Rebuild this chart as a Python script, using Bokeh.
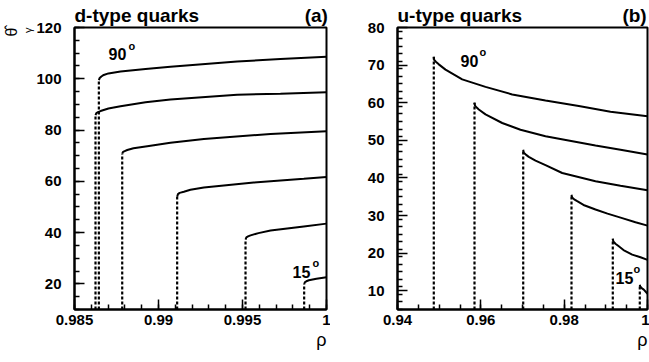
import numpy as np
from bokeh.plotting import figure
from bokeh.layouts import row
from bokeh.models import FixedTicker, PrintfTickFormatter, Label, Range1d, Title
from bokeh.embed import file_html
from bokeh.resources import INLINE

# ---- d-type quarks (panel a): curves for 90,75,60,45,30,15 degrees ----
d_x_90 = [0.98645, 0.98650, 0.98660, 0.98674, 0.98702, 0.98774, 0.98923, 0.99071, 0.99468, 0.99726, 1.0]
d_y_90 = [99.5, 100.3, 100.9, 101.5, 102.1, 102.8, 103.8, 104.7, 106.7, 107.7, 108.6]
d_x_75 = [0.98625, 0.98630, 0.98640, 0.98655, 0.98702, 0.98774, 0.98923, 0.99071, 0.99468, 0.99726, 1.0]
d_y_75 = [85.8, 86.6, 87.0, 87.4, 88.4, 89.3, 90.8, 91.9, 93.8, 94.2, 94.7]
d_x_60 = [0.98784, 0.98789, 0.98799, 0.98814, 0.98851, 0.98933, 0.99071, 0.99270, 0.99667, 1.0]
d_y_60 = [70.8, 71.5, 71.8, 72.2, 72.9, 73.7, 75.0, 76.5, 78.5, 79.5]
d_x_45 = [0.99111, 0.99116, 0.99126, 0.99151, 0.99190, 0.99270, 0.99567, 0.99865, 1.0]
d_y_45 = [54.0, 55.0, 55.5, 55.9, 56.7, 57.6, 59.5, 61.0, 61.7]
d_x_30 = [0.99518, 0.99523, 0.99533, 0.99548, 0.99595, 0.99667, 0.99865, 1.0]
d_y_30 = [37.3, 38.1, 38.5, 38.9, 39.8, 40.8, 42.4, 43.5]
d_x_15 = [0.99867, 0.99872, 0.99880, 0.99895, 0.99940, 1.0]
d_y_15 = [20.0, 20.7, 21.0, 21.4, 22.0, 22.6]

# ---- u-type quarks (panel b) ----
u_x_90 = [0.94871, 0.94880, 0.94920, 0.94991, 0.95152, 0.95553, 0.96112, 0.96753, 0.97552, 0.98351, 0.99112, 1.0]
u_y_90 = [72.2, 71.4, 70.9, 70.2, 68.8, 66.2, 64.2, 62.2, 60.6, 59.1, 57.6, 56.4]
u_x_75 = [0.95848, 0.95860, 0.95900, 0.95951, 0.96112, 0.96513, 0.96952, 0.97552, 0.98752, 0.99352, 1.0]
u_y_75 = [60.0, 59.2, 58.7, 58.2, 56.9, 54.6, 52.8, 51.1, 48.6, 47.5, 46.2]
u_x_60 = [0.97017, 0.97030, 0.97080, 0.97151, 0.97312, 0.97552, 0.97953, 0.98752, 0.99352, 1.0]
u_y_60 = [47.5, 46.7, 46.2, 45.6, 44.6, 43.4, 41.3, 39.1, 37.9, 36.7]
u_x_45 = [0.98176, 0.98190, 0.98240, 0.98313, 0.98464, 0.98752, 0.99040, 0.99393, 0.99712, 1.0]
u_y_45 = [35.5, 34.8, 34.3, 33.8, 32.8, 31.6, 30.5, 29.3, 28.2, 27.3]
u_x_30 = [0.99167, 0.99180, 0.99230, 0.99311, 0.99424, 0.99633, 0.99832, 1.0]
u_y_30 = [23.8, 23.1, 22.5, 21.8, 20.8, 19.6, 18.9, 18.2]
u_x_15 = [0.99815, 0.99825, 0.99860, 0.99911, 1.0]
u_y_15 = [11.6, 11.1, 10.7, 10.3, 9.2]

d_curves = [(d_x_90, d_y_90), (d_x_75, d_y_75), (d_x_60, d_y_60),
            (d_x_45, d_y_45), (d_x_30, d_y_30), (d_x_15, d_y_15)]
u_curves = [(u_x_90, u_y_90), (u_x_75, u_y_75), (u_x_60, u_y_60),
            (u_x_45, u_y_45), (u_x_30, u_y_30), (u_x_15, u_y_15)]

d_xticks = [0.985, 0.99, 0.995, 1.0]
d_yticks = [20, 40, 60, 80, 100, 120]
u_xticks = [0.94, 0.96, 0.98, 1.0]
u_yticks = [10, 20, 30, 40, 50, 60, 70, 80]

FONT = "Liberation Sans"
FB = 309  # frame bottom in window pixels
NB = "\u00a0"


def make_panel(xr, yr, xmaj, xminstep, ymaj, yminstep, curves, width, bl, br):
    p = figure(width=width, height=362, x_range=Range1d(*xr), y_range=Range1d(*yr),
               output_backend="svg", toolbar_location=None, sizing_mode="fixed",
               min_border_left=bl, min_border_right=br, min_border_top=27,
               min_border_bottom=53)
    p.grid.visible = False
    p.outline_line_color = "black"
    p.outline_line_width = 2
    p.background_fill_color = "white"
    p.border_fill_color = "white"
    xmin = [round(v, 4) for v in np.arange(xr[0], xr[1] + 1e-9, xminstep)]
    ymin = [round(v, 4) for v in np.arange(yr[0], yr[1] + 1e-9, yminstep)]
    p.xaxis.ticker = FixedTicker(ticks=xmaj, minor_ticks=xmin)
    p.yaxis.ticker = FixedTicker(ticks=ymaj, minor_ticks=ymin)
    p.xaxis.formatter = PrintfTickFormatter(format="%g")
    p.yaxis.formatter = PrintfTickFormatter(format="%g")
    for ax in (p.xaxis[0], p.yaxis[0]):
        ax.major_tick_in = 10
        ax.major_tick_out = 0
        ax.minor_tick_in = 5
        ax.minor_tick_out = 0
        ax.major_tick_line_width = 1.5
        ax.minor_tick_line_width = 1.5
        ax.axis_line_width = 2
        ax.major_label_text_font = FONT
        ax.major_label_text_font_style = "bold"
        ax.major_label_text_font_size = "15px"
        ax.major_label_text_color = "black"
    p.xaxis.major_label_standoff = 5
    p.yaxis.major_label_standoff = 13
    for xs, ys in curves:
        p.segment(x0=[xs[0]], y0=[yr[0]], x1=[xs[0]], y1=[ys[0]],
                  line_color="black", line_width=2.2, line_dash="3 2")
        p.line(xs, ys, line_color="black", line_width=2)
    return p


def lab(p, fl, X, Y, text, size, bold=True, align="left", baseline="alphabetic"):
    # X, Y in window pixels; fl = frame left pixel (inside-frame labels only)
    p.add_layout(Label(x=X - fl, y=FB - Y, x_units="screen", y_units="screen",
                       text=text, text_font=FONT, text_font_size=f"{size}px",
                       text_font_style="bold" if bold else "normal",
                       text_align=align, text_baseline=baseline,
                       text_color="black"))


def title(p, text, where, align, size, bold=True, standoff=0, offset=0):
    p.add_layout(Title(text=text, align=align, text_font=FONT,
                       text_font_size=f"{size}px",
                       text_font_style="bold" if bold else "normal",
                       text_color="black", standoff=standoff, offset=offset), where)


p1 = make_panel((0.985, 1.0), (10, 120), d_xticks, 0.001, d_yticks, 5,
                d_curves, 330, 74, 4)
p2 = make_panel((0.94, 1.0), (5, 80), u_xticks, 0.005, u_yticks, 2,
                u_curves, 319, 67, 2)

# panel a
title(p1, "d-type quarks" + NB * 20 + "(a)", "above", "left", 19, standoff=4)
title(p1, "ρ", "below", "right", 18, bold=False)
title(p1, "γ", "left", "right", 11, bold=False)
title(p1, "θ\u0302", "left", "right", 16, bold=False, offset=0)
lab(p1, 74, 108, 53, "90", 16)
lab(p1, 74, 128, 45, "o", 11)
lab(p1, 74, 292, 271, "15", 16)
lab(p1, 74, 312, 262, "o", 11)

# panel b
title(p2, "u-type quarks" + NB * 19 + "(b)", "above", "left", 19, standoff=4)
title(p2, "ρ", "below", "right", 18, bold=False)
lab(p2, 397, 460, 60, "90", 16)
lab(p2, 397, 479, 51, "o", 11)
lab(p2, 397, 615, 277, "15", 16)
lab(p2, 397, 633, 268, "o", 11)

layout = row(p1, p2, sizing_mode="fixed")
open("out.html", "w").write(file_html(layout, INLINE))
